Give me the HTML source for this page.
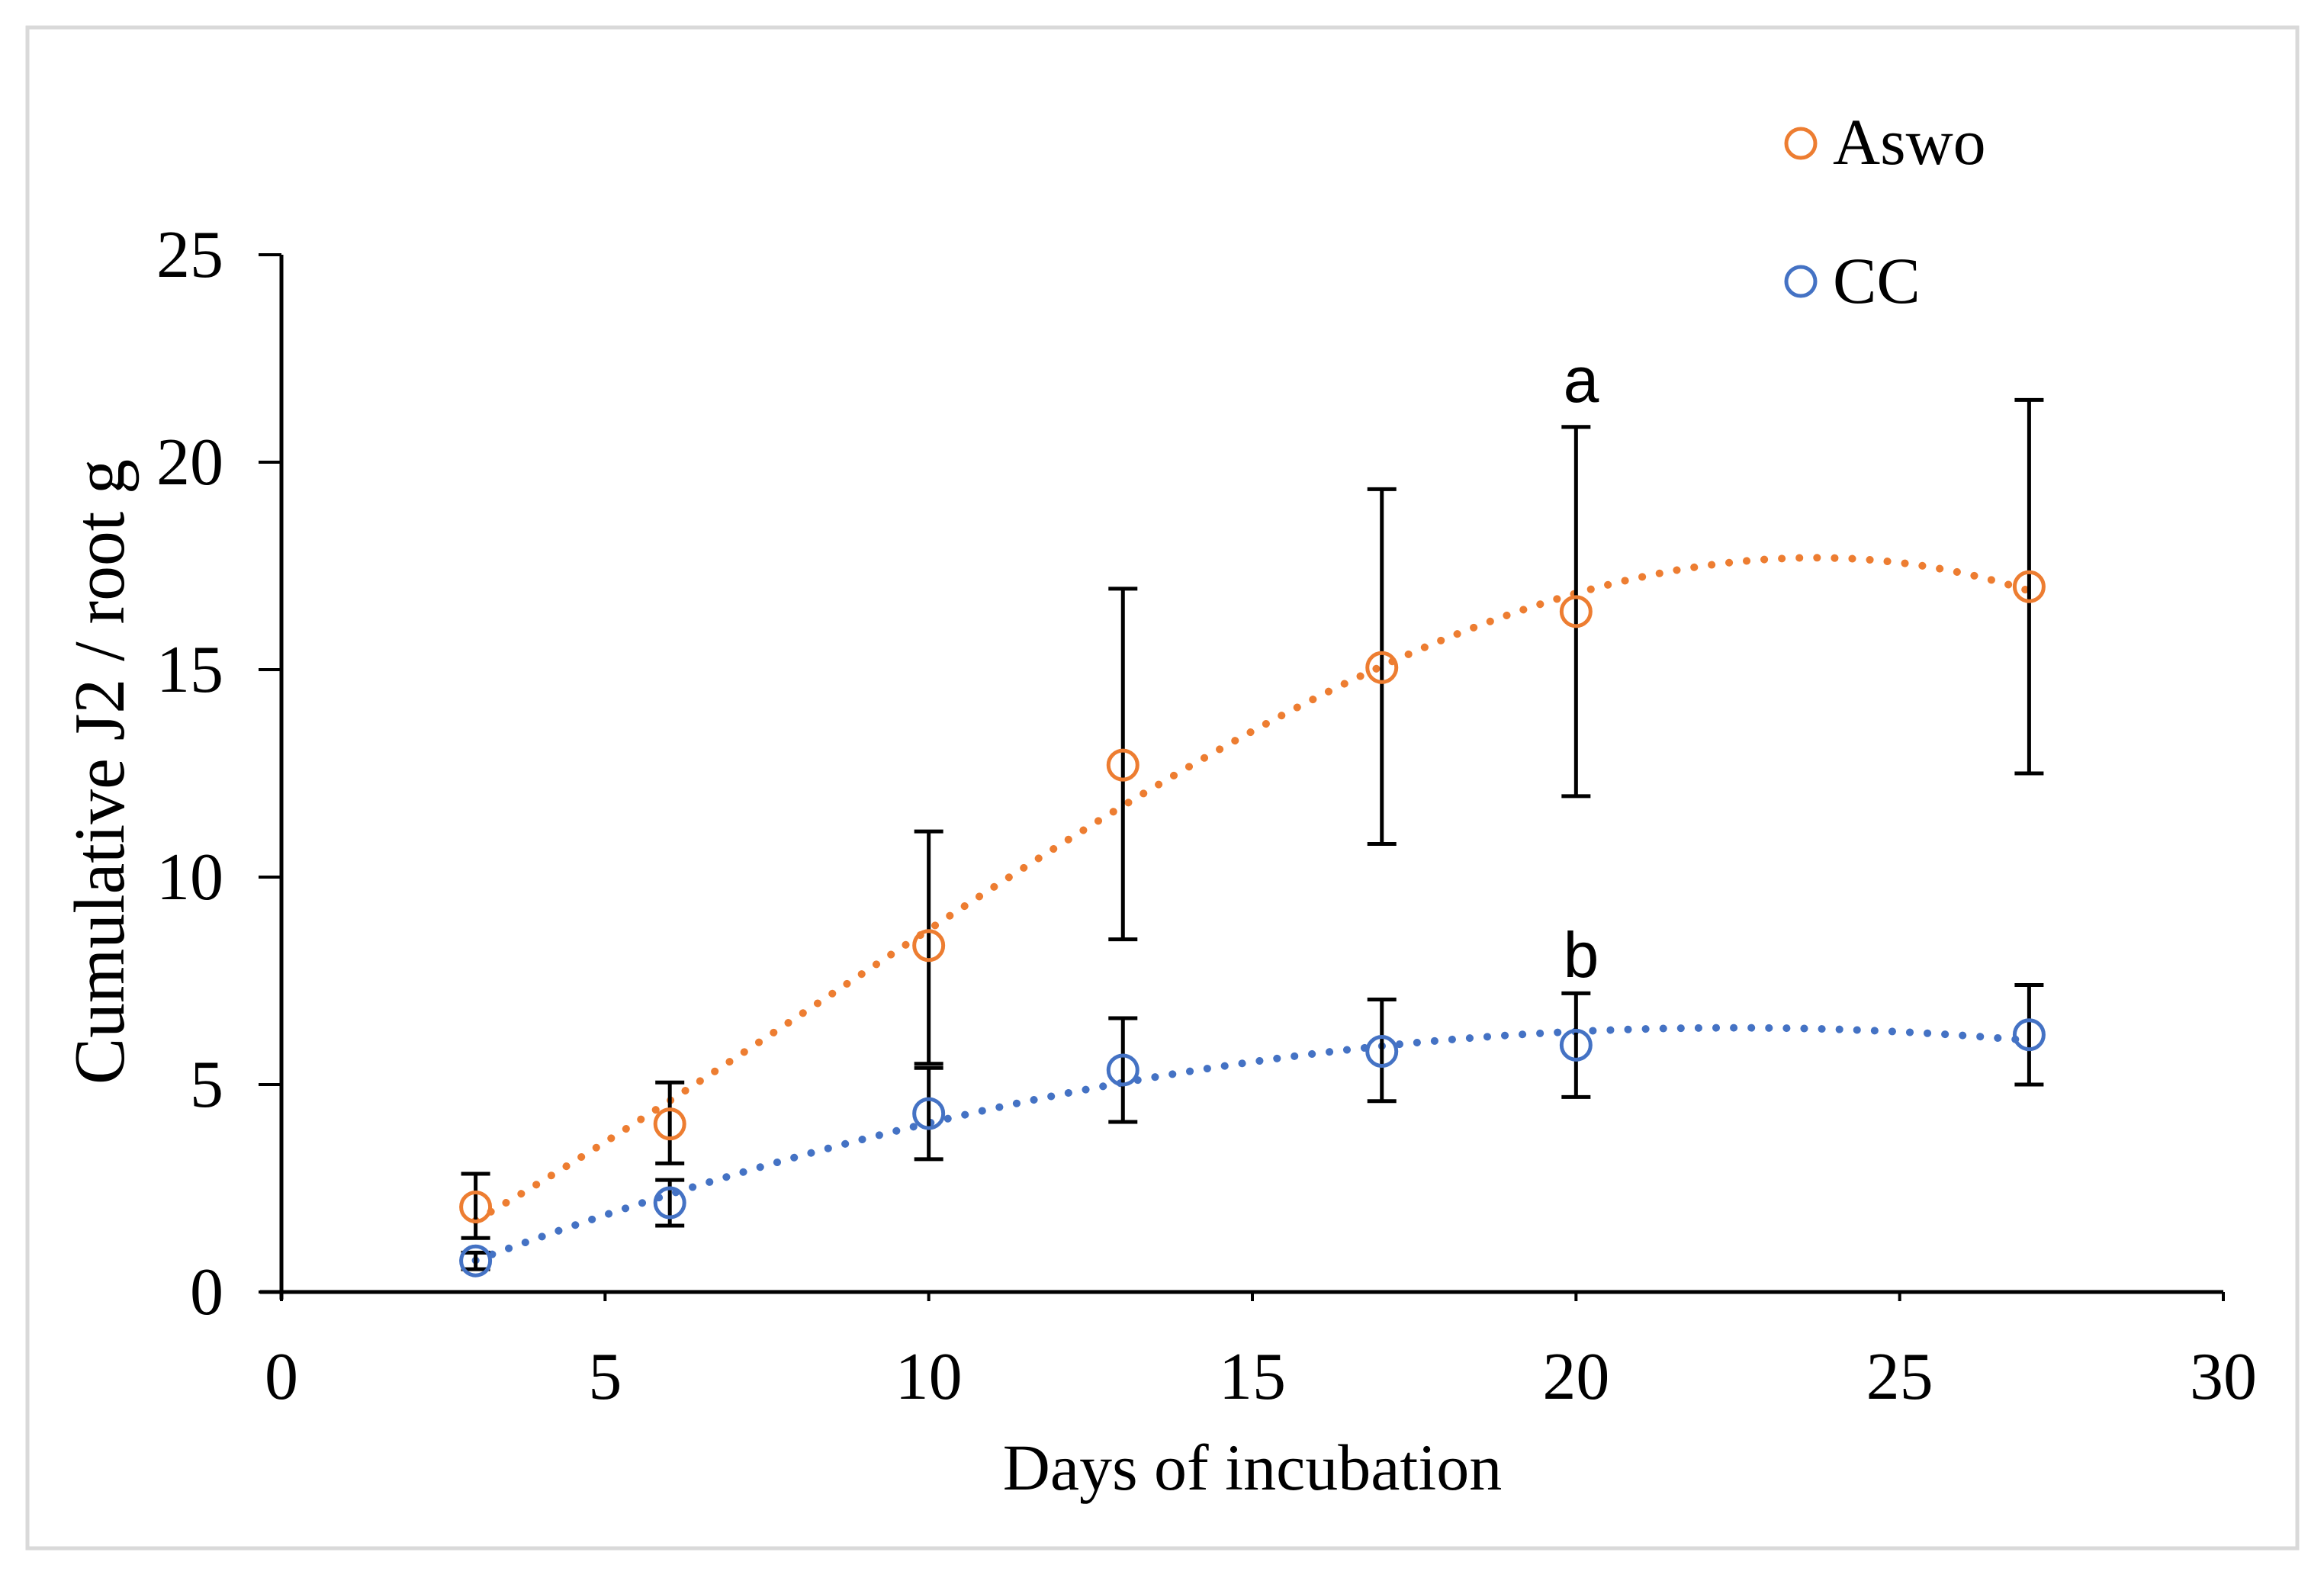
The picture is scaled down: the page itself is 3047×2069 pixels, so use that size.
<!DOCTYPE html>
<html><head><meta charset="utf-8"><style>
html,body{margin:0;padding:0;background:#fff}
svg{display:block}
</style></head><body>
<svg id="chart" width="3047" height="2069" viewBox="0 0 3047 2069" xmlns="http://www.w3.org/2000/svg">
<rect x="36" y="36" width="2976" height="1994" fill="#fff" stroke="#d9d9d9" stroke-width="5"/>
<g id="plot"></g>
<text x="1642" y="1953" font-family="Liberation Serif, serif" font-size="86" text-anchor="middle">Days of incubation</text>
<text transform="translate(162,1012) rotate(-90)" font-family="Liberation Serif, serif" font-size="94" text-anchor="middle" textLength="820" lengthAdjust="spacingAndGlyphs">Cumulative  J2 / root g</text>
<g>
<circle cx="2361" cy="188" r="19" fill="none" stroke="#ED7D31" stroke-width="5"/>
<text x="2403" y="215" font-family="Liberation Serif, serif" font-size="86">Aswo</text>
<circle cx="2361" cy="369" r="19" fill="none" stroke="#4472C4" stroke-width="5"/>
<text x="2403" y="397" font-family="Liberation Serif, serif" font-size="86">CC</text>
</g>
<text x="2073" y="527" font-family="Liberation Sans, sans-serif" font-size="84" text-anchor="middle">a</text>
<text x="2073" y="1281" font-family="Liberation Sans, sans-serif" font-size="84" text-anchor="middle">b</text>
</svg>
<script>
const days = [3, 6, 10, 13, 17, 20, 27];
const aswoMean = [2.05, 4.05, 8.35, 12.7, 15.05, 16.4, 17.0];
const aswoLow = [1.3, 3.1, 5.5, 8.5, 10.8, 11.95, 12.5];
const aswoHigh = [2.85, 5.05, 11.1, 16.95, 19.35, 20.85, 21.5];
const ccMean = [0.75, 2.15, 4.3, 5.35, 5.8, 5.95, 6.2];
const ccLow = [0.55, 1.6, 3.2, 4.1, 4.6, 4.7, 5.0];
const ccHigh = [0.95, 2.7, 5.4, 6.6, 7.05, 7.2, 7.4];
const xTicks = [0, 5, 10, 15, 20, 25, 30];
const yTicks = [0, 5, 10, 15, 20, 25];

const X0 = 369, X1 = 2915, Y0 = 1694, Y1 = 334;
const xs = v => X0 + (v - 0) / 30 * (X1 - X0);
const ys = v => Y0 - (v - 0) / 25 * (Y0 - Y1);
const NS = 'http://www.w3.org/2000/svg';
const plot = document.getElementById('plot');
function mk(tag, attrs, parent) {
  const e = document.createElementNS(NS, tag);
  for (const k in attrs) e.setAttribute(k, attrs[k]);
  (parent || plot).appendChild(e);
  return e;
}
let el = mk('line', {x1: X0, y1: Y1, x2: X0, y2: Y0 + 10, stroke: '#000', 'stroke-width': 5});


el = mk('line', {x1: X0 - 28, y1: Y0, x2: X1, y2: Y0, stroke: '#000', 'stroke-width': 5});


yTicks.forEach(t => {
  const y = ys(t);
  let a = mk('line', {x1: X0 - 30, y1: y, x2: X0, y2: y, stroke: '#000', 'stroke-width': 4});
  
  
  let tx = mk('text', {x: 293, y: y + 29, 'font-family': 'Liberation Serif, serif', 'font-size': 88, 'text-anchor': 'end'});
  tx.textContent = t;
  
  
});
xTicks.forEach(t => {
  const x = xs(t);
  let a = mk('line', {x1: x, y1: Y0, x2: x, y2: Y0 + 12, stroke: '#000', 'stroke-width': 4});
  
  
  let tx = mk('text', {x: x, y: 1834, 'font-family': 'Liberation Serif, serif', 'font-size': 88, 'text-anchor': 'middle'});
  tx.textContent = t;
  
  
});
function fit(xv, yv, deg) {
  const n = deg + 1, A = [], b = [];
  for (let i = 0; i < n; i++) { A.push(new Array(n).fill(0)); b.push(0); }
  xv.forEach((x, k) => {
    for (let i = 0; i < n; i++) {
      b[i] += yv[k] * Math.pow(x, i);
      for (let j = 0; j < n; j++) A[i][j] += Math.pow(x, i + j);
    }
  });
  for (let i = 0; i < n; i++) {
    let p = i;
    for (let r = i + 1; r < n; r++) if (Math.abs(A[r][i]) > Math.abs(A[p][i])) p = r;
    [A[i], A[p]] = [A[p], A[i]]; [b[i], b[p]] = [b[p], b[i]];
    for (let r = i + 1; r < n; r++) {
      const f = A[r][i] / A[i][i];
      for (let c = i; c < n; c++) A[r][c] -= f * A[i][c];
      b[r] -= f * b[i];
    }
  }
  const c = new Array(n).fill(0);
  for (let i = n - 1; i >= 0; i--) {
    let s = b[i];
    for (let j = i + 1; j < n; j++) s -= A[i][j] * c[j];
    c[i] = s / A[i][i];
  }
  return x => c.reduce((s, ci, i) => s + ci * Math.pow(x, i), 0);
}
function series(name, mean, low, high, color, deg) {
  const f = fit(days, mean, deg);
  let d = '';
  for (let i = 0; i <= 200; i++) {
    const x = days[0] + (days[days.length - 1] - days[0]) * i / 200;
    d += (i ? 'L' : 'M') + xs(x).toFixed(1) + ',' + ys(f(x)).toFixed(1);
  }
  let p = mk('path', {d: d, fill: 'none', stroke: color, 'stroke-width': 10, 'stroke-linecap': 'round', 'stroke-dasharray': '0.1 23'});
  
  
  days.forEach((dx, i) => {
    const x = xs(dx);
    const g = mk('g', {});
    
    
    mk('line', {x1: x, y1: ys(low[i]), x2: x, y2: ys(high[i]), stroke: '#000', 'stroke-width': 5}, g);
    mk('line', {x1: x - 19, y1: ys(low[i]), x2: x + 19, y2: ys(low[i]), stroke: '#000', 'stroke-width': 5}, g);
    mk('line', {x1: x - 19, y1: ys(high[i]), x2: x + 19, y2: ys(high[i]), stroke: '#000', 'stroke-width': 5}, g);
  });
  days.forEach((dx, i) => {
    const c = mk('circle', {cx: xs(dx), cy: ys(mean[i]), r: 19, fill: 'none', stroke: color, 'stroke-width': 5});
    
    
  });
}
series('aswo', aswoMean, aswoLow, aswoHigh, '#ED7D31', 3);
series('cc', ccMean, ccLow, ccHigh, '#4472C4', 2);
</script>
</body></html>
